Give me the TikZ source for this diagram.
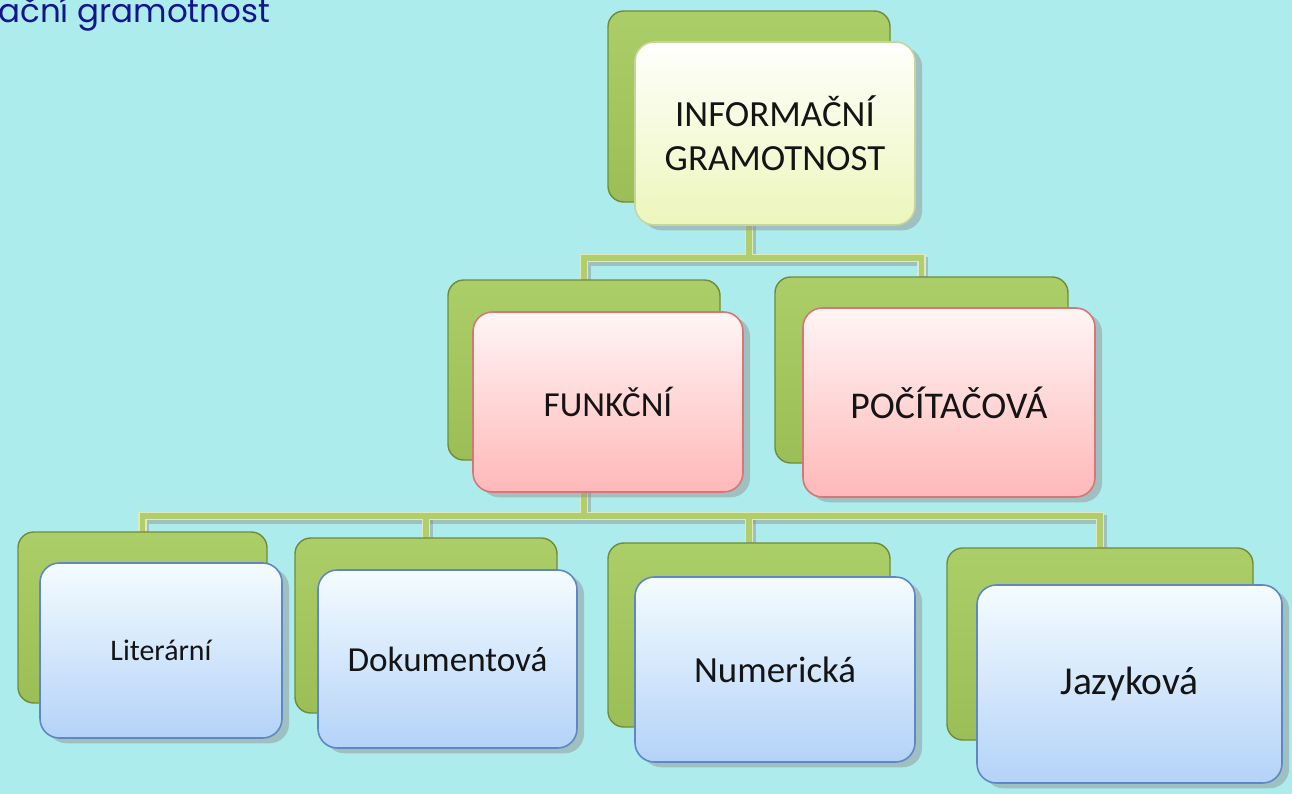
\documentclass[tikz,border=0pt]{standalone}
\usepackage{fontspec}
\setmainfont{Carlito}
\newfontfamily\titlefont{Poppins}
\usetikzlibrary{shadows}
\pgfdeclarelayer{bgl}
\pgfdeclarelayer{connl}
\pgfsetlayers{bgl,connl,main}
\newdimen\pxu \pxu=0.02cm
\definecolor{bgcyan}{RGB}{173,236,236}
\definecolor{greentop}{RGB}{172,206,104}
\definecolor{greenbot}{RGB}{155,190,86}
\definecolor{greenedge}{RGB}{112,140,56}
\definecolor{ytop}{RGB}{255,255,252}
\definecolor{ybot}{RGB}{236,246,188}
\definecolor{yedge}{RGB}{198,212,158}
\definecolor{ptop}{RGB}{255,245,245}
\definecolor{pbot}{RGB}{255,184,184}
\definecolor{pedge}{RGB}{214,118,118}
\definecolor{btop}{RGB}{244,252,255}
\definecolor{bbot}{RGB}{180,210,248}
\definecolor{bedge}{RGB}{96,134,196}
\definecolor{txt}{RGB}{20,20,20}
\definecolor{navytxt}{RGB}{20,20,145}
\definecolor{connout}{RGB}{222,234,190}
\definecolor{connin}{RGB}{178,206,108}
\newcommand\allconn[1]{%
  \draw[#1] (tb.south) -- (bus1);
  \draw[#1] (fb.north) |- (bus1) -| (pb.north);
  \draw[#1] (fb.south) -- (bus2);
  \draw[#1] (lb.north) |- (bus2) -| (jb.north);
  \draw[#1] (db.north) -- (db.north |- bus2);
  \draw[#1] (nb.north) -- (nb.north |- bus2);
}
\begin{document}
\begin{tikzpicture}[x=0.02cm,y=-0.02cm,
  sz/.style 2 args={minimum width=#1\pxu, minimum height=#2\pxu},
  backbox/.style={draw=greenedge, line width=0.8pt, rounded corners=9pt,
    top color=greentop, bottom color=greenbot, inner sep=0pt},
  frontbase/.style={rounded corners=11pt, line width=0.9pt, inner sep=0pt,
    align=center, text=txt,
    drop shadow={shadow xshift=4pt, shadow yshift=-3pt, fill=black!45, opacity=0.45}},
  yellowbox/.style={frontbase, draw=yedge, top color=ytop, bottom color=ybot},
  pinkbox/.style={frontbase, draw=pedge, top color=ptop, bottom color=pbot},
  bluebox/.style={frontbase, draw=bedge, top color=btop, bottom color=bbot},
  connshadow/.style={draw=black!45, opacity=0.45, line width=5pt, line cap=butt,
    transform canvas={xshift=1.3pt, yshift=-1.8pt}},
  connouter/.style={draw=connout, line width=4.8pt},
  conninner/.style={draw=connin, line width=3.2pt}
]
\useasboundingbox (0,0) rectangle (1292,794);
\begin{pgfonlayer}{bgl}
  \fill[bgcyan] (0,0) rectangle (1292,794);
\end{pgfonlayer}

\node[anchor=base west, inner sep=0pt, text=navytxt,
  font=\titlefont\fontsize{18.5pt}{22pt}\selectfont] (title) at (-2,23) {ační gramotnost};

% level 1
\node[backbox, sz={282}{191}] (tb) at (749,106.5) {};
\node[yellowbox, sz={280}{183}, font=\fontsize{21pt}{25pt}\selectfont] (tf) at (775,133.5) {INFORMAČNÍ\\GRAMOTNOST};

% level 2
\node[backbox, sz={272}{180}] (fb) at (584,370) {};
\node[pinkbox, sz={270}{180}, font=\fontsize{20pt}{24pt}\selectfont] (ff) at (608,402) {FUNKČNÍ};
\node[backbox, sz={293}{186}] (pb) at (921.5,370) {};
\node[pinkbox, sz={292}{189}, font=\fontsize{21.5pt}{26pt}\selectfont] (pf) at (949,402.5) {POČÍTAČOVÁ};

% level 3
\node[backbox, sz={249}{171}] (lb) at (142.5,617.5) {};
\node[bluebox, sz={242}{175}, font=\fontsize{17pt}{21pt}\selectfont] (lf) at (161,650.5) {Literární};
\node[backbox, sz={262}{175}] (db) at (426,625.5) {};
\node[bluebox, sz={259}{178}, font=\fontsize{20pt}{24pt}\selectfont] (df) at (447.5,659) {Dokumentová};
\node[backbox, sz={282}{184}] (nb) at (749,635) {};
\node[bluebox, sz={280}{185}, font=\fontsize{21pt}{25pt}\selectfont] (nf) at (775,669.5) {Numerická};
\node[backbox, sz={306}{192}] (jb) at (1100,644) {};
\node[bluebox, sz={305}{198}, font=\fontsize{22.5pt}{27pt}\selectfont] (jf) at (1129.5,684) {Jazyková};

\coordinate (bus1) at (749,258);
\coordinate (bus2) at (584,516);

\begin{pgfonlayer}{connl}
  \allconn{connshadow}
  \allconn{connouter}
  \allconn{conninner}
\end{pgfonlayer}
\end{tikzpicture}
\end{document}
